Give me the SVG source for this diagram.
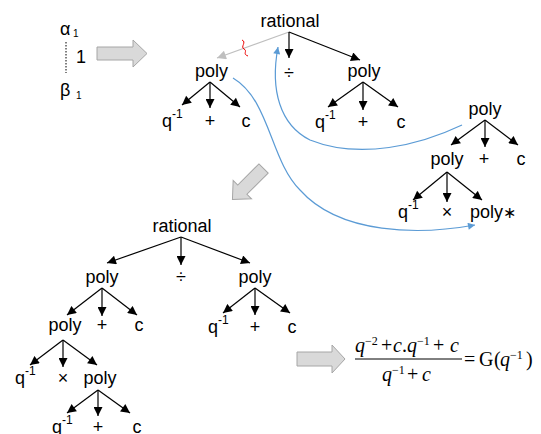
<svg xmlns="http://www.w3.org/2000/svg" width="541" height="434" viewBox="0 0 541 434">
<defs>
<marker id="ah" viewBox="0 0 10 10" refX="10" refY="5" markerWidth="11" markerHeight="9" markerUnits="userSpaceOnUse" orient="auto"><path d="M0,0 L10,5 L0,10 z" fill="#000"/></marker>
<marker id="ahg" viewBox="0 0 10 10" refX="10" refY="5" markerWidth="11" markerHeight="9" markerUnits="userSpaceOnUse" orient="auto"><path d="M0,0 L10,5 L0,10 z" fill="#bfbfbf"/></marker>
<marker id="ahb" viewBox="0 0 10 10" refX="10" refY="5" markerWidth="9" markerHeight="7" markerUnits="userSpaceOnUse" orient="auto"><path d="M0,0 L10,5 L0,10 z" fill="#5b9bd5"/></marker>
</defs>
<style>
text{font-family:"Liberation Sans",Arial,sans-serif;font-size:18px;fill:#000}
.m{text-anchor:middle}
.sup{font-size:12px}
.e{stroke:#000;stroke-width:1.2;fill:none;marker-end:url(#ah)}
.eg{stroke:#bfbfbf;stroke-width:1.2;fill:none;marker-end:url(#ahg)}
.b{stroke:#5b9bd5;stroke-width:1.2;fill:none;marker-end:url(#ahb)}
.ga{fill:#d9d9d9;stroke:#a6a6a6;stroke-width:1}
.f{font-family:"Liberation Serif","Times New Roman",serif;font-size:20px}
.fi{font-style:italic}
.fs{font-size:12px}
</style>

<g id="alphabeta">
<text x="60" y="35">α<tspan x="73" y="37" font-size="10">1</tspan></text>
<line x1="66" y1="42" x2="66" y2="73" stroke="#000" stroke-width="1" stroke-dasharray="1.5 1.5"/>
<text x="76" y="63" font-size="16">1</text>
<text x="60" y="96">β<tspan x="76" y="99" font-size="10">1</tspan></text>
</g>

<g id="arrow-right-top"><path class="ga" d="M97,47 L133,47 L133,40 L147,53.5 L133,67 L133,60 L97,60 z"/></g>
<g id="arrow-diag"><path class="ga" transform="translate(248,184) rotate(135)" d="M-22,-6.5 L8,-6.5 L8,-13 L22,0 L8,13 L8,6.5 L-22,6.5 z"/></g>
<g id="arrow-right-bottom"><path class="ga" d="M297,352 L332,352 L332,345 L345,359 L332,373 L332,366 L297,366 z"/></g>

<g id="connectors">
<line class="eg" x1="289" y1="32" x2="217" y2="58"/>
<line class="e" x1="289" y1="32" x2="289" y2="58"/>
<line class="e" x1="289" y1="32" x2="360" y2="60"/>
<line class="e" x1="210" y1="82" x2="182" y2="105"/>
<line class="e" x1="210" y1="82" x2="210" y2="108"/>
<line class="e" x1="210" y1="82" x2="240" y2="107"/>
<line class="e" x1="363" y1="82" x2="328" y2="107"/>
<line class="e" x1="363" y1="82" x2="363" y2="110"/>
<line class="e" x1="363" y1="82" x2="398" y2="107"/>
<line class="e" x1="485" y1="120" x2="451" y2="145"/>
<line class="e" x1="485" y1="120" x2="485" y2="147"/>
<line class="e" x1="485" y1="120" x2="518" y2="145"/>
<line class="e" x1="447" y1="172" x2="413" y2="200"/>
<line class="e" x1="447" y1="172" x2="447" y2="202"/>
<line class="e" x1="447" y1="172" x2="482" y2="200"/>
<line class="e" x1="181" y1="237" x2="107" y2="263"/>
<line class="e" x1="181" y1="237" x2="181" y2="265"/>
<line class="e" x1="181" y1="237" x2="250" y2="263"/>
<line class="e" x1="102" y1="288" x2="67" y2="315"/>
<line class="e" x1="102" y1="288" x2="102" y2="316"/>
<line class="e" x1="102" y1="288" x2="137" y2="315"/>
<line class="e" x1="255" y1="288" x2="223" y2="313"/>
<line class="e" x1="255" y1="288" x2="255" y2="315"/>
<line class="e" x1="255" y1="288" x2="290" y2="313"/>
<line class="e" x1="63" y1="340" x2="30" y2="365"/>
<line class="e" x1="63" y1="340" x2="63" y2="367"/>
<line class="e" x1="63" y1="340" x2="97" y2="365"/>
<line class="e" x1="98" y1="390" x2="67" y2="413"/>
<line class="e" x1="98" y1="390" x2="98" y2="416"/>
<line class="e" x1="98" y1="390" x2="130" y2="413"/>
<path class="b" d="M233,78 C270,100 270,160 300,190 C340,235 420,235 475,225"/>
<path class="b" d="M462,125 C420,145 360,160 310,140 C280,125 270,90 278,47"/>
<path d="M242,40 C247,42 240,47 244,49 C248,51 242,54 248,56" stroke="#e00" stroke-width="1" fill="none"/>
</g>

<g id="top-tree">
<text class="m" x="290" y="27">rational</text>
<text class="m" x="211.5" y="77">poly</text>
<text class="m" x="289" y="79">÷</text>
<text class="m" x="364" y="77">poly</text>
<text x="162" y="127">q<tspan class="sup" dy="-9">-1</tspan></text>
<text class="m" x="210" y="127">+</text>
<text class="m" x="246" y="127">c</text>
<text x="315" y="128">q<tspan class="sup" dy="-9">-1</tspan></text>
<text class="m" x="363" y="128">+</text>
<text class="m" x="401" y="128">c</text>
</g>

<g id="right-tree">
<text class="m" x="485" y="115">poly</text>
<text class="m" x="447" y="165">poly</text>
<text class="m" x="484" y="165">+</text>
<text class="m" x="521" y="165">c</text>
<text x="398" y="218">q<tspan class="sup" dy="-9">-1</tspan></text>
<text class="m" x="447" y="218">×</text>
<text x="470" y="218">poly<tspan font-size="16">∗</tspan></text>
</g>

<g id="bottom-tree">
<text class="m" x="182" y="232">rational</text>
<text class="m" x="102" y="283">poly</text>
<text class="m" x="181" y="283">÷</text>
<text class="m" x="255" y="283">poly</text>
<text class="m" x="65" y="331">poly</text>
<text class="m" x="102" y="331">+</text>
<text class="m" x="139" y="331">c</text>
<text x="208" y="333">q<tspan class="sup" dy="-9">-1</tspan></text>
<text class="m" x="255" y="333">+</text>
<text class="m" x="292" y="333">c</text>
<text x="15" y="384">q<tspan class="sup" dy="-9">-1</tspan></text>
<text class="m" x="63" y="384">×</text>
<text class="m" x="100" y="384">poly</text>
<text x="52" y="433">q<tspan class="sup" dy="-9">-1</tspan></text>
<text class="m" x="98" y="433">+</text>
<text class="m" x="137" y="433">c</text>
</g>

<g id="formula">
<text class="f" y="352"><tspan class="fi" x="355">q</tspan><tspan class="fs" x="365" y="345">−2</tspan><tspan x="381" y="352">+</tspan><tspan class="fi" x="393">c</tspan><tspan x="402">.</tspan><tspan class="fi" x="407">q</tspan><tspan class="fs" x="417" y="345">−1</tspan><tspan x="433" y="352">+</tspan><tspan class="fi" x="450">c</tspan></text>
<line x1="355" y1="359" x2="462" y2="359" stroke="#000" stroke-width="1"/>
<text class="f" y="381"><tspan class="fi" x="382">q</tspan><tspan class="fs" x="392" y="374">−1</tspan><tspan x="407" y="381">+</tspan><tspan class="fi" x="422">c</tspan></text>
<text class="f" y="366"><tspan x="464">=</tspan><tspan x="479">G</tspan><tspan x="494">(</tspan><tspan class="fi" x="500">q</tspan><tspan class="fs" x="510" y="359">−1</tspan><tspan x="526" y="366">)</tspan></text>
</g>
</svg>
